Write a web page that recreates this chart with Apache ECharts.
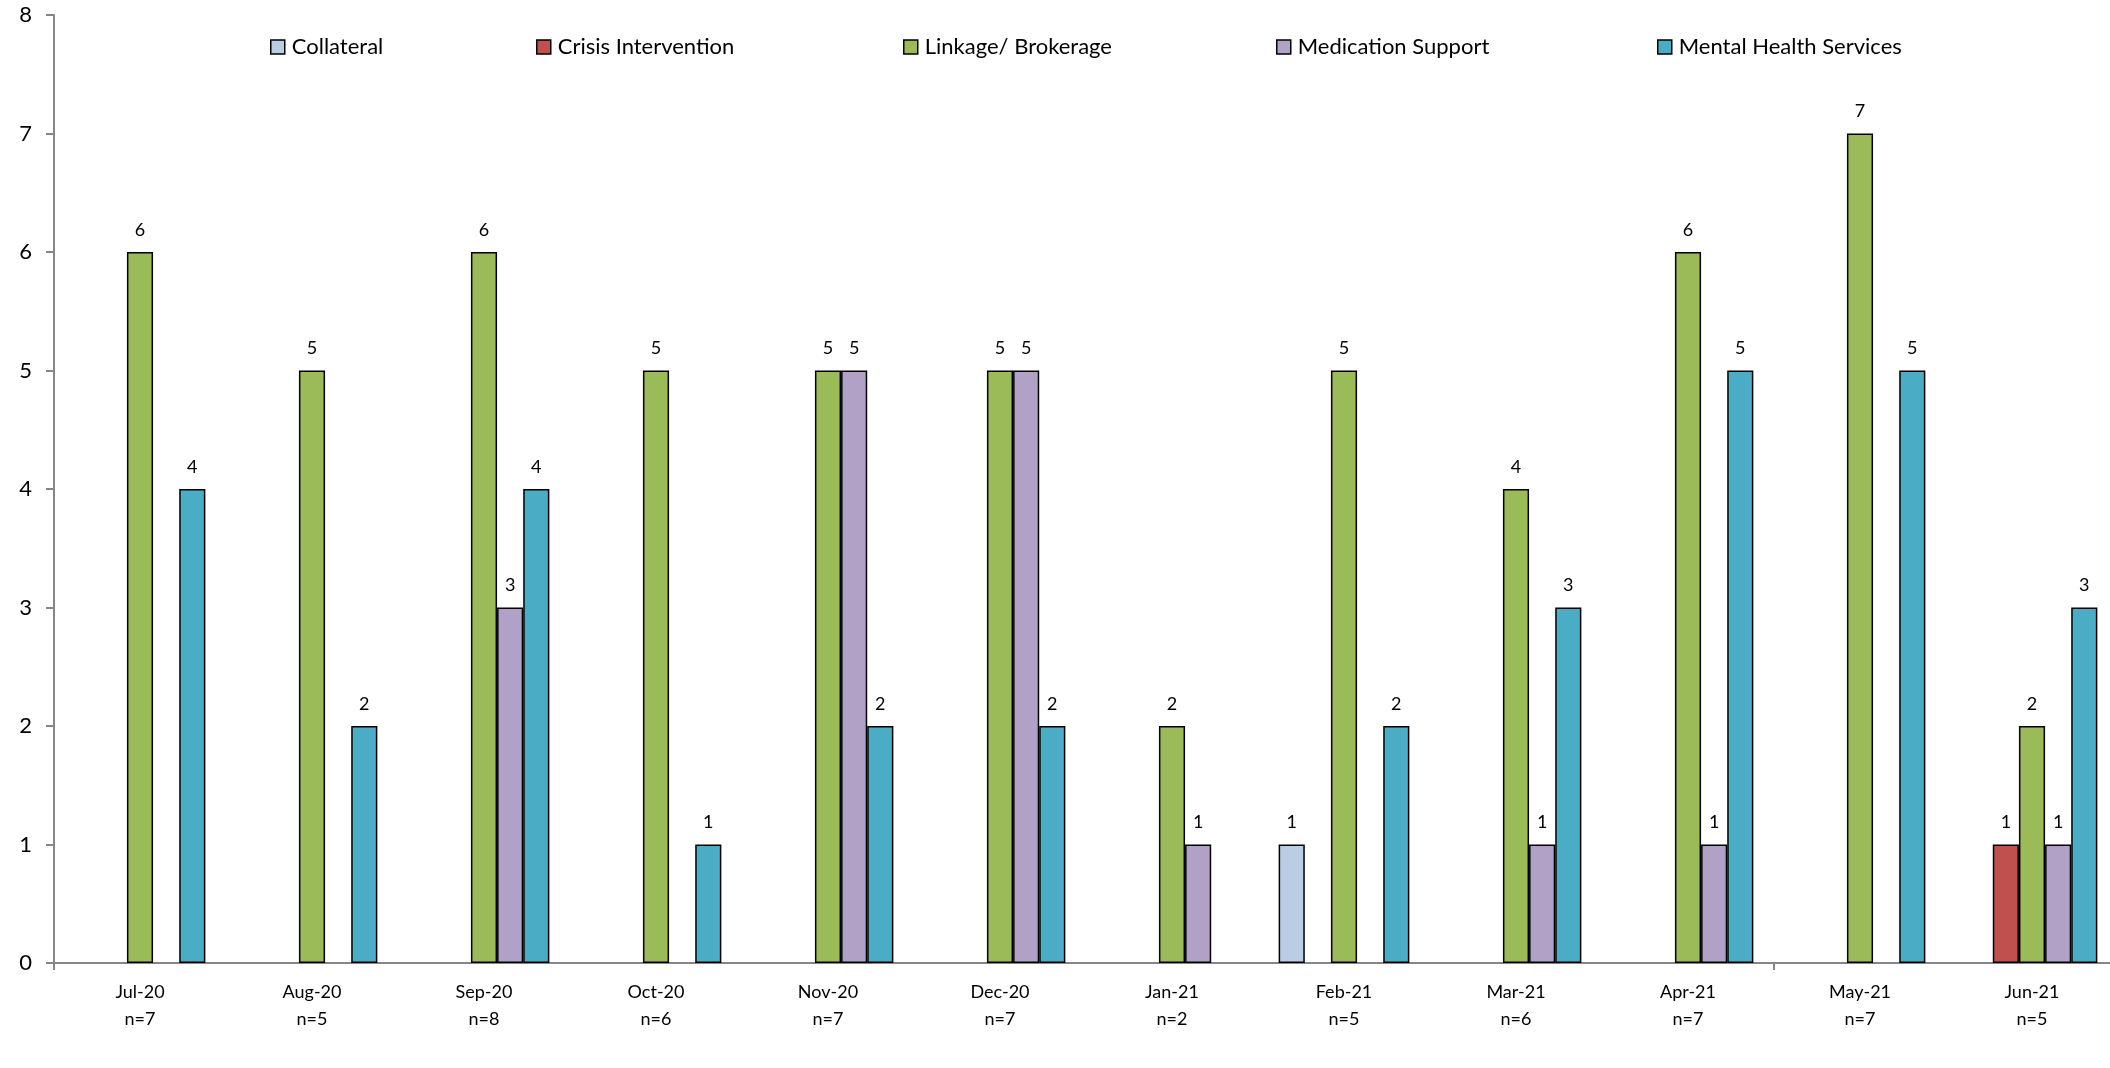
<!DOCTYPE html>
<html>
<head>
<meta charset="utf-8">
<title>Services by Month</title>
<script src="https://cdn.jsdelivr.net/npm/echarts@6/dist/echarts.min.js"></script>
<style>
  html, body { margin: 0; padding: 0; background: #ffffff; }
  #chart { width: 2110px; height: 1068px; }
</style>
</head>
<body>
<div id="chart"></div>
<script>
// Monthly service counts by service type
const months = ['Jul-20', 'Aug-20', 'Sep-20', 'Oct-20', 'Nov-20', 'Dec-20',
                'Jan-21', 'Feb-21', 'Mar-21', 'Apr-21', 'May-21', 'Jun-21'];
const sampleSizes = [7, 5, 8, 6, 7, 7, 2, 5, 6, 7, 7, 5];

const collateral          = [null, null, null, null, null, null, null, 1, null, null, null, null];
const crisisIntervention  = [null, null, null, null, null, null, null, null, null, null, null, 1];
const linkageBrokerage    = [6, 5, 6, 5, 5, 5, 2, 5, 4, 6, 7, 2];
const medicationSupport   = [null, null, 3, null, 5, 5, 1, null, 1, 1, null, 1];
const mentalHealthSvc     = [4, 2, 4, 1, 2, 2, null, 2, 3, 5, 5, 3];

const yTicks = [0, 1, 2, 3, 4, 5, 6, 7, 8];

const seriesDefs = [
  { name: 'Collateral',              data: collateral,         color: '#B9CDE5' },
  { name: 'Crisis Intervention',     data: crisisIntervention, color: '#C0504D' },
  { name: 'Linkage/ Brokerage',      data: linkageBrokerage,   color: '#9BBB59' },
  { name: 'Medication Support',      data: medicationSupport,  color: '#B2A1C7' },
  { name: 'Mental Health Services',  data: mentalHealthSvc,    color: '#4BACC6' }
];

const FONT = 'Lato, "Open Sans", sans-serif';
const legendLefts = [270, 536, 903, 1276, 1657];

const chart = echarts.init(document.getElementById('chart'), null, { renderer: 'canvas' });

chart.setOption({
  animation: false,
  backgroundColor: '#ffffff',
  textStyle: { fontFamily: FONT, color: '#000000' },
  legend: seriesDefs.map((s, i) => ({
    data: [s.name],
    left: legendLefts[i],
    top: 36,
    itemWidth: 14,
    itemHeight: 14,
    itemGap: 6,
    padding: 0,
    icon: 'rect',
    selectedMode: false,
    itemStyle: { borderColor: '#000000', borderWidth: 1.5 },
    textStyle: { fontFamily: FONT, fontSize: 22, color: '#000000', padding: [0, 0, 0, 2] }
  })),
  // the plot runs a little past the right edge of the canvas
  grid: { left: 54, top: 15, right: -8, bottom: 105, containLabel: false, outerBoundsMode: 'none' },
  xAxis: {
    type: 'category',
    data: months.map((m, i) => m + '\nn=' + sampleSizes[i]),
    boundaryGap: true,
    axisLine: { lineStyle: { color: '#868686', width: 2 } },
    axisTick: {
      show: true,
      length: 7,
      interval: (i) => i === 0 || i === 10,
      lineStyle: { color: '#868686', width: 2 }
    },
    axisLabel: {
      interval: 0,
      margin: 16,
      fontFamily: FONT,
      fontSize: 18,
      lineHeight: 27,
      color: '#000000'
    }
  },
  yAxis: {
    type: 'value',
    min: yTicks[0],
    max: yTicks[yTicks.length - 1],
    interval: 1,
    splitLine: { show: false },
    axisLine: { show: true, lineStyle: { color: '#868686', width: 2 } },
    axisTick: { show: true, inside: false, length: 8, lineStyle: { color: '#868686', width: 2 } },
    axisLabel: { margin: 22, fontFamily: FONT, fontSize: 22, color: '#000000' }
  },
  series: seriesDefs.map((s) => ({
    name: s.name,
    type: 'bar',
    data: s.data,
    barGap: '0%',
    barCategoryGap: '24%',
    itemStyle: { color: s.color, borderColor: '#000000', borderWidth: 1.5 },
    label: {
      show: true,
      position: 'top',
      distance: 13,
      fontFamily: FONT,
      fontSize: 18,
      color: '#000000'
    }
  }))
});
</script>
</body>
</html>
